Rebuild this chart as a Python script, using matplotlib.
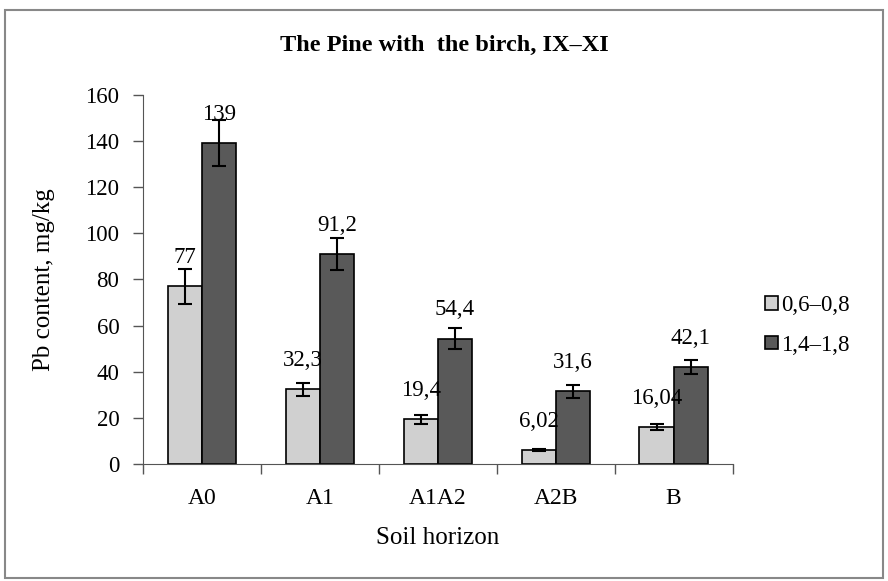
import matplotlib
matplotlib.use("Agg")
import matplotlib.pyplot as plt
import numpy as np
from matplotlib.patches import Rectangle

categories = ["A0", "A1", "A1A2", "A2B", "B"]
series_names = ["0,6\u20130,8", "1,4\u20131,8"]
low_vals = [77, 32.3, 19.4, 6.02, 16.04]
high_vals = [139, 91.2, 54.4, 31.6, 42.1]
low_err = [7.5, 3, 2, 0.5, 1.5]
high_err = [10, 7, 4.5, 2.8, 3]
low_labels = ["77", "32,3", "19,4", "6,02", "16,04"]
high_labels = ["139", "91,2", "54,4", "31,6", "42,1"]
yticks = [0, 20, 40, 60, 80, 100, 120, 140, 160]

plt.rcParams['font.family'] = ['Liberation Serif', 'DejaVu Serif']

fig = plt.figure(figsize=(8.88, 5.81), dpi=100)
fig.patches.append(Rectangle((0.006, 0.005), 0.988, 0.977, transform=fig.transFigure,
                             fill=False, edgecolor='#888888', linewidth=1.5))
ax = fig.add_axes([0.161, 0.2014, 0.664, 0.6351])

x = np.arange(len(categories))
w = 0.29
ek = dict(ecolor='black', elinewidth=1.5, capsize=5, capthick=1.5)
ax.bar(x - w/2, low_vals, w, color='#d0d0d0', edgecolor='black', linewidth=1.2,
       yerr=low_err, error_kw=ek, label=series_names[0], zorder=2)
ax.bar(x + w/2, high_vals, w, color='#595959', edgecolor='black', linewidth=1.2,
       yerr=high_err, error_kw=ek, label=series_names[1], zorder=2)

for i in range(len(categories)):
    ax.annotate(low_labels[i], (x[i] - w/2, low_vals[i]), xytext=(0, 13),
                textcoords='offset points', ha='center', va='bottom', fontsize=16.5)
    ax.annotate(high_labels[i], (x[i] + w/2, high_vals[i]), xytext=(0, 13),
                textcoords='offset points', ha='center', va='bottom', fontsize=16.5)

ax.set_xlim(-0.5, len(categories) - 0.5)
ax.set_ylim(0, 160)
ax.set_yticks(yticks)
ax.set_yticklabels([str(t) for t in yticks], fontsize=16.5)
ax.set_xticks(x)
ax.set_xticklabels(categories, fontsize=17)
ax.tick_params(axis='x', length=0, pad=17)
ax.set_xticks(np.arange(-0.5, len(categories), 1.0), minor=True)
ax.tick_params(axis='x', which='minor', length=7, width=1, color='#555555')
ax.tick_params(axis='y', length=7, width=1, color='#555555', pad=10)
for s in ['top', 'right']:
    ax.spines[s].set_visible(False)
ax.spines['left'].set_color('#555555')
ax.spines['bottom'].set_color('#555555')

ax.set_xlabel("Soil horizon", fontsize=18, labelpad=13)
ax.set_ylabel("Pb content, mg/kg", fontsize=18, labelpad=22)
fig.text(0.5, 0.922, "The Pine with  the birch, IX\u2013XI", ha='center', va='center',
         fontsize=17.5, fontweight='bold')

fig.legend(loc='center left', bbox_to_anchor=(0.862, 0.44), frameon=False,
           fontsize=16.5, handlelength=0.55, handleheight=0.55, handletextpad=0.15,
           labelspacing=0.8, borderpad=0, borderaxespad=0)

fig.savefig("out.png", dpi=100)
